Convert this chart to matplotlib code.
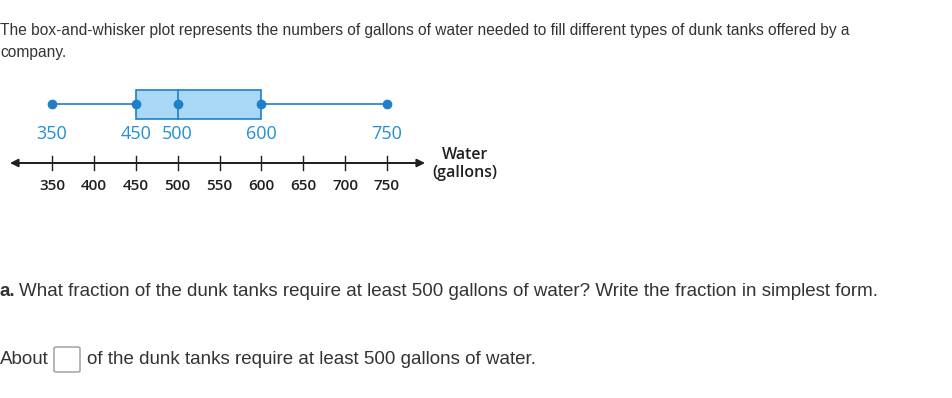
import matplotlib
matplotlib.use("Agg")
import matplotlib.pyplot as plt
from matplotlib.patches import Rectangle, FancyBboxPatch

# data
five_num = [350, 450, 500, 600, 750]   # min, Q1, median, Q3, max
ticks = [350, 400, 450, 500, 550, 600, 650, 700, 750]
tick_labels = [str(t) for t in ticks]
axis_label = "Water\n(gallons)"

W, H = 952, 398
fig = plt.figure(figsize=(W / 100, H / 100), dpi=100)
ax = fig.add_axes([0, 0, 1, 1])
# x in gallons mapped to pixels: 350 -> 52 px, 750 -> 387 px
ppg = (387 - 52) / 400.0
ax.set_xlim(350 - 52 / ppg, 350 + (W - 52) / ppg)
ax.set_ylim(H, 0)   # y in pixels, top = 0
ax.axis("off")

blue_edge = "#1f7fc9"
blue_fill = "#a9d7f6"
blue_text = "#2190d8"
dark = "#231f20"

mn, q1, med, q3, mx = five_num
# box
ax.add_patch(Rectangle((q1, 90), q3 - q1, 29, facecolor=blue_fill,
                       edgecolor=blue_edge, linewidth=1.2, zorder=2))
ax.plot([med, med], [90, 119], color=blue_edge, lw=1.2, zorder=3)
ax.plot([mn, q1], [104, 104], color=blue_edge, lw=1.2, zorder=3)
ax.plot([q3, mx], [104, 104], color=blue_edge, lw=1.2, zorder=3)
ax.plot(five_num, [104] * 5, "o", color=blue_edge, ms=6, zorder=4)
for v in five_num:
    ax.text(v, 134, str(v), color=blue_text, fontsize=13, family="Open Sans",
            ha="center", va="center")

# number line
x_left = mn - 42 / ppg
x_right = mx + 38 / ppg
ax.annotate("", xy=(x_left, 163), xytext=(x_right - 5, 163),
            arrowprops=dict(arrowstyle="-|>", color=dark, lw=1.3,
                            mutation_scale=12, shrinkA=0, shrinkB=0))
ax.annotate("", xy=(x_right, 163), xytext=(x_left + 5, 163),
            arrowprops=dict(arrowstyle="-|>", color=dark, lw=1.3,
                            mutation_scale=12, shrinkA=0, shrinkB=0))
for t, lab in zip(ticks, tick_labels):
    ax.plot([t, t], [156, 170], color=dark, lw=1.0)
    ax.text(t, 186, lab, color=dark, fontsize=11, family="Open Sans",
            fontweight="semibold", ha="center", va="center")
ax.text(mx + 78 / ppg, 164, axis_label, color=dark, fontsize=11.5,
        family="Open Sans", fontweight="semibold", ha="center", va="center",
        linespacing=1.15)

# question text
tf = dict(family="Liberation Sans", fontsize=11.2, color="#333333")
x0 = ax.get_xlim()[0]
ax.text(x0, 31,
        "The box-and-whisker plot represents the numbers of gallons of water needed to fill different types of dunk tanks offered by a",
        ha="left", va="center", **tf)
ax.text(x0, 53, "company.", ha="left", va="center", **tf)

tq = dict(family="Liberation Sans", fontsize=13.5, color="#333333")
fig.text(0.0, 1 - 292 / H, "a.", fontweight="bold", ha="left", va="center", **tq)
fig.text(19 / W, 1 - 292 / H,
         "What fraction of the dunk tanks require at least 500 gallons of water? Write the fraction in simplest form.",
         ha="left", va="center", **tq)
fig.text(0.0, 1 - 359 / H, "About", ha="left", va="center", **tq)
fig.patches.append(FancyBboxPatch((54 / W, 1 - 372 / H), 26 / W, 25 / H,
                                  boxstyle="round,pad=0,rounding_size=0.003",
                                  transform=fig.transFigure, facecolor="white",
                                  edgecolor="#999999", linewidth=1.0))
fig.text(87 / W, 1 - 359 / H, "of the dunk tanks require at least 500 gallons of water.",
         ha="left", va="center", **tq)

fig.savefig("out.png", dpi=100)
